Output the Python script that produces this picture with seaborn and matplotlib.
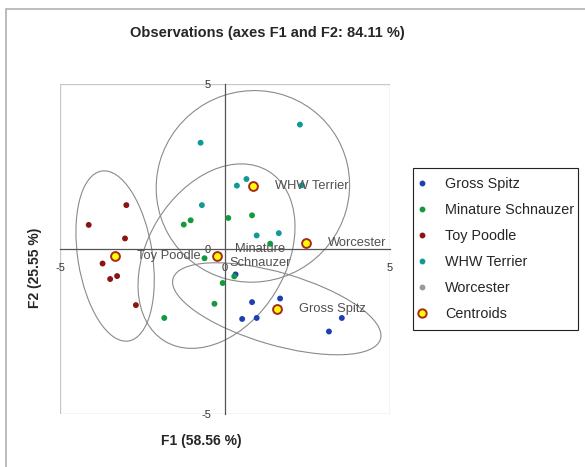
import numpy as np
import pandas as pd
import matplotlib
matplotlib.use("Agg")
import matplotlib.pyplot as plt
from matplotlib.patches import Ellipse, Rectangle
from matplotlib.lines import Line2D
import seaborn as sns

groups = ["Gross Spitz", "Minature Schnauzer", "Toy Poodle", "WHW Terrier", "Worcester"]
spitz_f1 = [0.32, 0.82, 1.67, 0.52, 0.96, 3.54, 3.15]
spitz_f2 = [-0.77, -1.61, -1.50, -2.12, -2.09, -2.09, -2.50]
schnauzer_f1 = [0.10, 0.82, -1.04, -1.25, 1.37, -0.62, 0.28, -0.07, -0.32, -1.84]
schnauzer_f2 = [0.94, 1.02, 0.87, 0.74, 0.16, -0.28, -0.83, -1.03, -1.66, -2.09]
poodle_f1 = [-2.99, -4.13, -3.03, -3.71, -3.27, -3.48, -2.70]
poodle_f2 = [1.33, 0.73, 0.32, -0.44, -0.82, -0.91, -1.70]
terrier_f1 = [2.27, -0.74, 0.65, 0.36, -0.70, 0.96, 1.63, 2.33]
terrier_f2 = [3.77, 3.22, 2.12, 1.92, 1.33, 0.41, 0.48, 1.93]
worcester_f1 = [2.46]
worcester_f2 = [0.19]

colors = ["#1f3fb0", "#139a3c", "#8c1414", "#0f9a96", "#9a9a9a"]
centroid_labels = ["Gross Spitz", "Minature\nSchnauzer", "Toy Poodle", "WHW Terrier", "Worcester"]

xs = [spitz_f1, schnauzer_f1, poodle_f1, terrier_f1, worcester_f1]
ys = [spitz_f2, schnauzer_f2, poodle_f2, terrier_f2, worcester_f2]
df = pd.concat([pd.DataFrame({"F1": x, "F2": y, "Group": g}) for g, x, y in zip(groups, xs, ys)],
               ignore_index=True)
cent = df.groupby("Group", sort=False)[["F1", "F2"]].mean()

sns.set_style("white")
plt.rcParams["font.family"] = ["Liberation Sans", "DejaVu Sans"]
plt.rcParams["axes.unicode_minus"] = False

fig = plt.figure(figsize=(5.85, 4.67), dpi=100)
ax = fig.add_axes([60 / 585, 1 - 414 / 467, 330 / 585, 330 / 467])

# 95% confidence ellipses from each group's covariance
chi = np.sqrt(5.991)
for g in groups:
    sub = df[df["Group"] == g]
    if len(sub) < 3:
        continue
    cov = np.cov(sub["F1"], sub["F2"])
    vals, vecs = np.linalg.eigh(cov)
    angle = np.degrees(np.arctan2(vecs[1, 1], vecs[0, 1]))
    ell = Ellipse((sub["F1"].mean(), sub["F2"].mean()), 2 * chi * np.sqrt(vals[1]),
                  2 * chi * np.sqrt(vals[0]), angle=angle, fill=False,
                  ec="#8a8a8a", lw=0.8, zorder=1)
    ax.add_patch(ell)

sns.scatterplot(data=df, x="F1", y="F2", hue="Group", palette=colors, s=18,
                linewidth=0, legend=False, ax=ax, zorder=3)
ax.scatter(cent["F1"], cent["F2"], s=40, c="#ffff00", edgecolors="#a8281a",
           linewidths=1.4, zorder=4)

for g, lab in zip(groups, centroid_labels):
    cx, cy = cent.loc[g]
    dx = 13 if "\n" in lab else 22
    ax.annotate(lab, (cx, cy), xytext=(dx, 0), textcoords="offset pixels",
                ha="left", va="center", multialignment="center",
                fontsize=9.3, color="#505050", zorder=5)

ax.set_xlim(-5, 5)
ax.set_ylim(-5, 5)
ax.set_xlabel("")
ax.set_ylabel("")
ax.spines["left"].set_position(("data", 0))
ax.spines["bottom"].set_position(("data", 0))
ax.spines["top"].set_visible(False)
ax.spines["right"].set_visible(False)
for s in ["left", "bottom"]:
    ax.spines[s].set_color("#555555")
    ax.spines[s].set_linewidth(0.9)
ax.add_patch(Rectangle((0, 0), 1, 1, transform=ax.transAxes, fill=False,
                       ec="#c8c8c8", lw=1.0, zorder=0))
ax.set_xticks([-5, 0, 5])
ax.set_yticks([-5, 0, 5])
ax.tick_params(axis="both", labelsize=8, direction="inout", length=4,
               color="#555555", labelcolor="#333333")
ax.tick_params(axis="x", pad=8)
ax.tick_params(axis="y", pad=8)

fig.text(267 / 585, 1 - 33 / 467, "Observations (axes F1 and F2: 84.11 %)",
         ha="center", va="center", fontsize=10.5, fontweight="bold")
fig.text(201 / 585, 1 - 441 / 467, "F1 (58.56 %)", ha="center", va="center",
         fontsize=10, fontweight="bold")
fig.text(35 / 585, 1 - 268 / 467, "F2 (25.55 %)", ha="center", va="center",
         rotation=90, fontsize=10, fontweight="bold")

handles = [Line2D([], [], ls="", marker="o", ms=3.2, mfc=c, mec=c) for c in colors]
handles.append(Line2D([], [], ls="", marker="o", ms=6, mfc="#ffff00", mec="#a8281a", mew=1.4))
leg = fig.legend(handles, groups + ["Centroids"], loc="upper left",
                 bbox_to_anchor=(418 / 585, 1 - 177 / 467), fontsize=10.4,
                 frameon=False, labelspacing=0.83, handletextpad=1.27,
                 borderpad=0, handlelength=0.6, borderaxespad=0)

# legend box
fig.patches.append(Rectangle((413 / 585, 1 - 330 / 467), 165 / 585, 162 / 467,
                             transform=fig.transFigure, fill=False, ec="#222222", lw=0.8))
# outer chart frame
fig.patches.append(Rectangle((6 / 585, -0.1), 1.2, 1.1 - 9 / 467, transform=fig.transFigure,
                             fill=False, ec="#b0b0b0", lw=1.2))

fig.savefig("out.png", dpi=100)
